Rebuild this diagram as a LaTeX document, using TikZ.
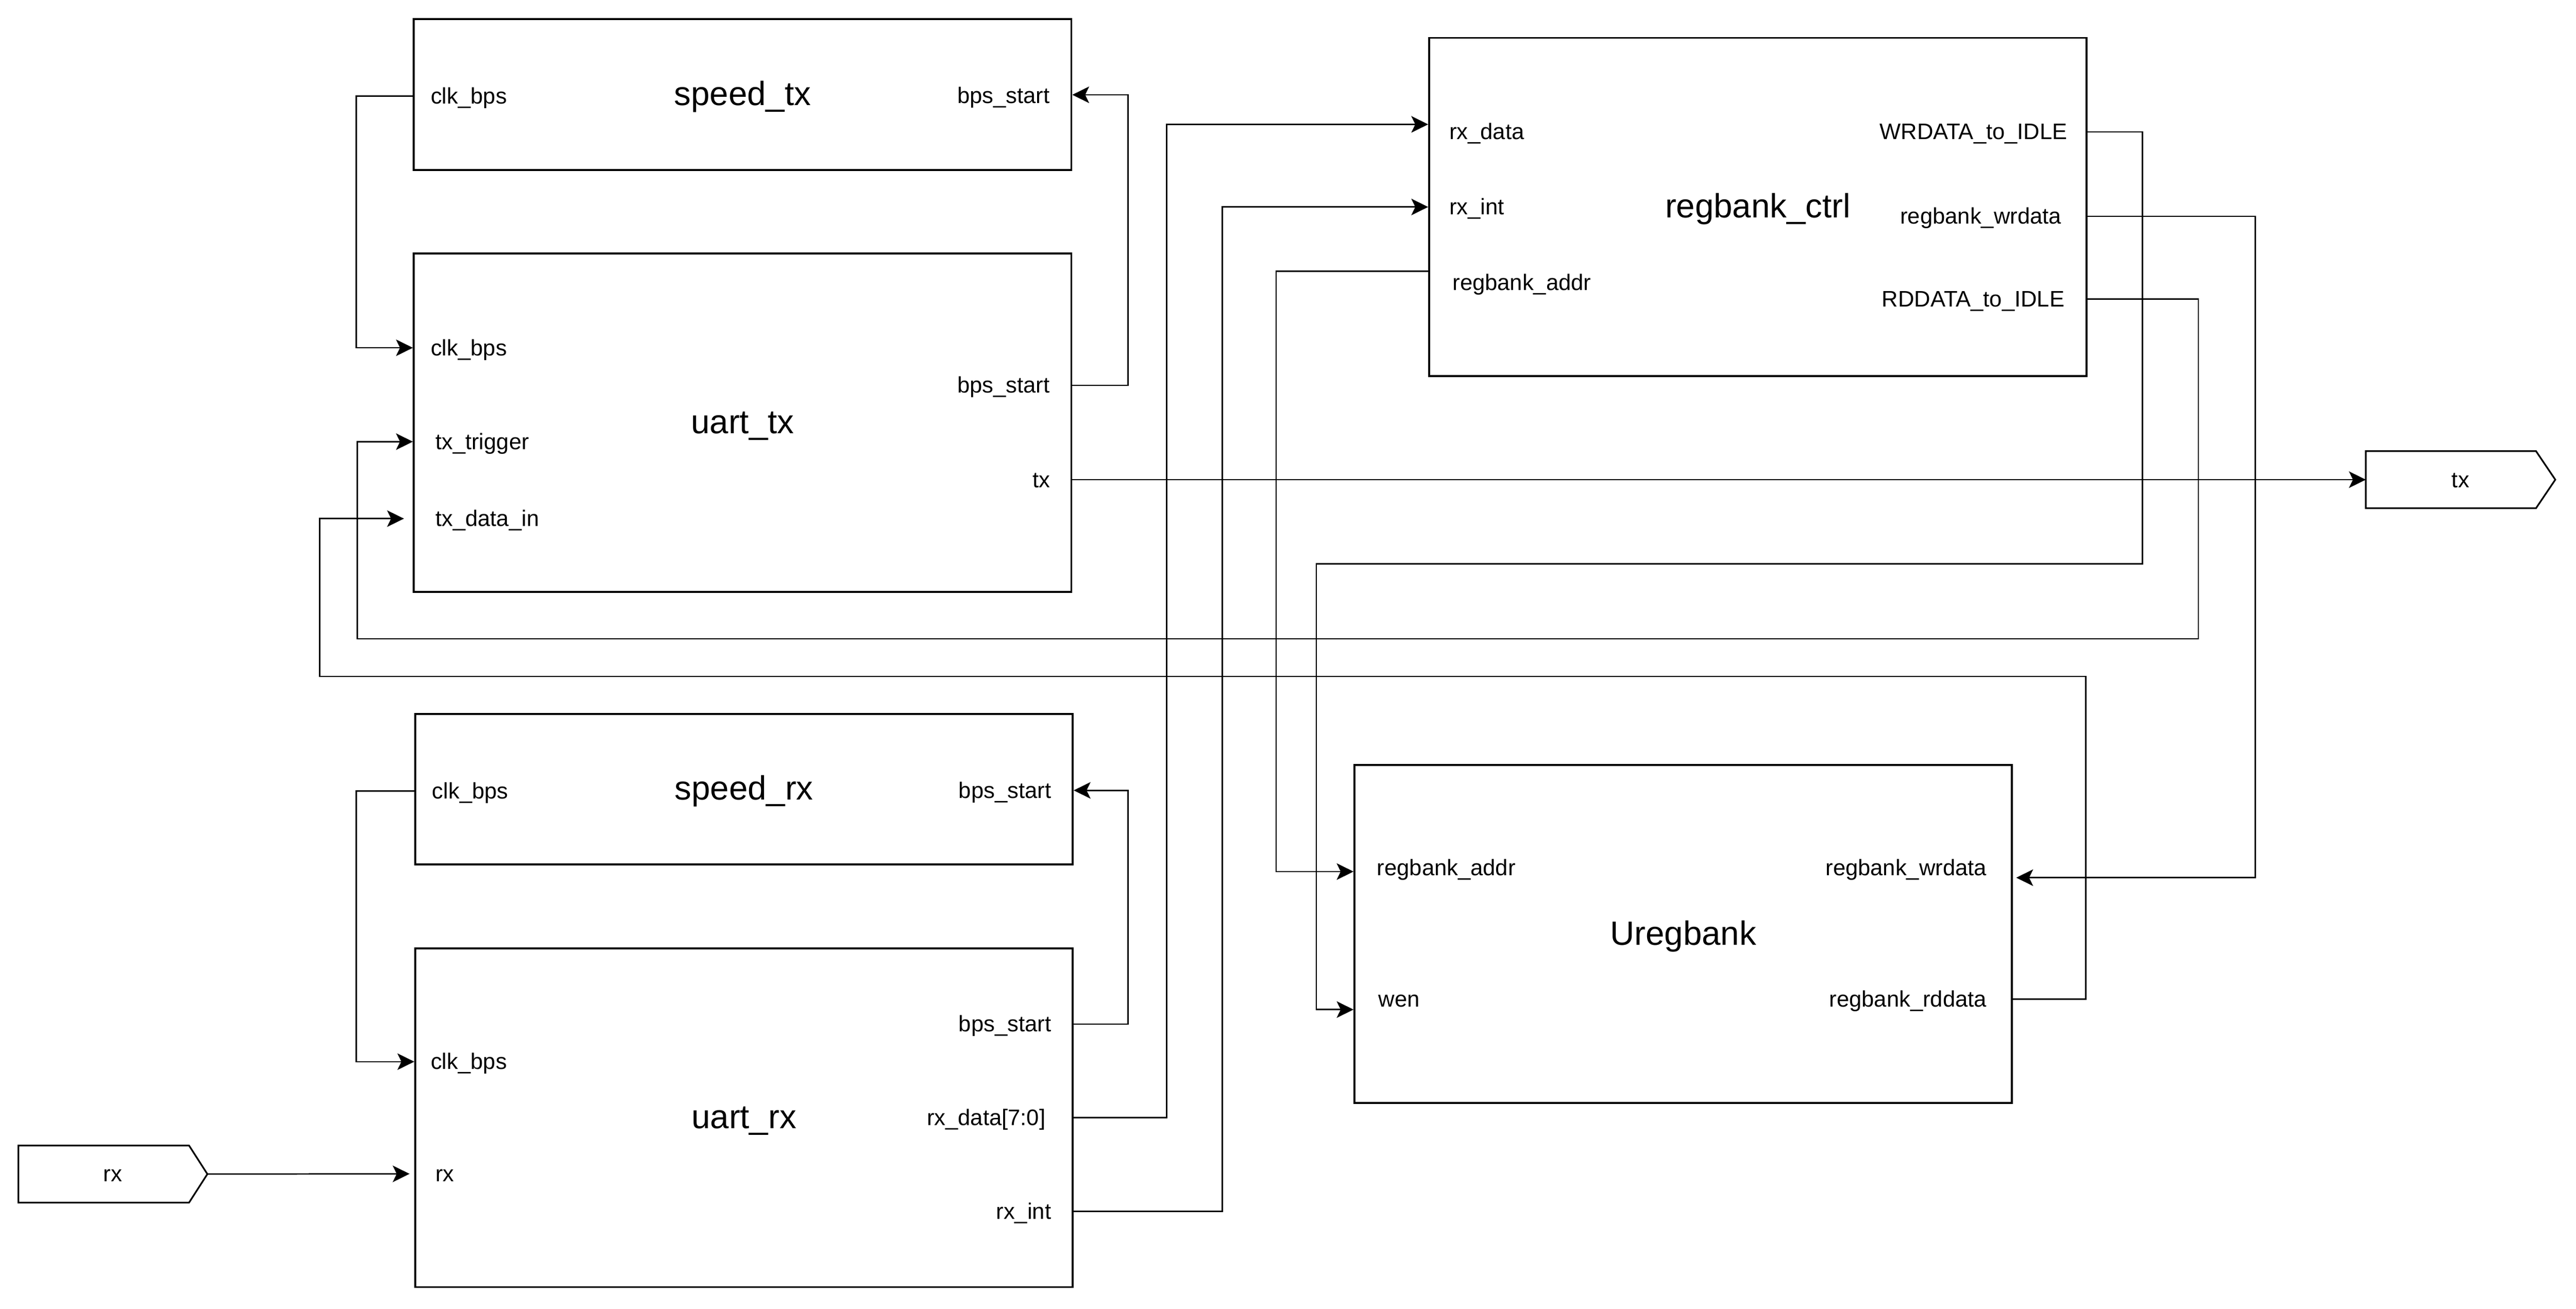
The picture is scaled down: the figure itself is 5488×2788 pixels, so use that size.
\documentclass[tikz,border=0pt]{standalone}
\usepackage{fontspec}
\setmainfont{Liberation Sans}
\usetikzlibrary{arrows.meta}
\begin{document}
\begin{tikzpicture}[x=0.01cm, y=-0.01cm, >={Stealth[length=10.2pt, width=10pt, inset=2.4pt]},
    block/.style={draw, line width=1.14pt, minimum width=14cm, text height=16pt, text depth=2.9pt, font=\fontsize{20.4}{24}\selectfont},
    lbl/.style={inner sep=0pt, font=\fontsize{13.6}{16}\selectfont, text height=11.5pt, text depth=2.2pt},
    port/.style={lbl, minimum height=1.2cm},
    wire/.style={->, line width=0.85pt}]
    \useasboundingbox (0,0) rectangle (5488,2788);
    % blocks
    \node[block, minimum height=3.21cm] (stx) at (1582,201.5) {speed\_tx};
    \node[block, minimum height=7.21cm] (utx) at (1582,900.5) {uart\_tx};
    \node[block, minimum height=3.21cm] (srx) at (1585,1681.5) {speed\_rx};
    \node[block, minimum height=7.21cm] (urx) at (1585,2381.5) {uart\_rx};
    \node[block, minimum height=7.2cm] (ctrl) at (3745,441) {regbank\_ctrl};
    \node[block, minimum height=7.2cm] (bank) at (3586,1990) {Uregbank};
    % ports
    \node[port, minimum width=4.02cm] (txp) at (5242,1022) {tx};
    \node[port, minimum width=4.01cm] (rxp) at (240.5,2501.5) {rx};
    \draw[line width=1pt] (txp.north west) -- ([xshift=-0.41cm]txp.north east) -- (txp.east)
        -- ([xshift=-0.41cm]txp.south east) -- (txp.south west) -- cycle;
    \draw[line width=1pt] (rxp.north west) -- ([xshift=-0.39cm]rxp.north east) -- (rxp.east)
        -- ([xshift=-0.39cm]rxp.south east) -- (rxp.south west) -- cycle;
    % pin labels
    \node[lbl, anchor=west] (sclk) at (917,205) {clk\_bps};
    \node[lbl, anchor=east] (sbps) at (2237,204) {bps\_start};
    \node[lbl, anchor=west] (uclk) at (917,741) {clk\_bps};
    \node[lbl, anchor=west] (utrig) at (927,941) {tx\_trigger};
    \node[lbl, anchor=west] (udin) at (927,1105) {tx\_data\_in};
    \node[lbl, anchor=east] (ubps) at (2237,821) {bps\_start};
    \node[lbl, anchor=east] (utxo) at (2238,1022) {tx};
    \node[lbl, anchor=west] (rsclk) at (920,1685) {clk\_bps};
    \node[lbl, anchor=east] (rsbps) at (2240,1684) {bps\_start};
    \node[lbl, anchor=west] (rclk) at (917,2262) {clk\_bps};
    \node[lbl, anchor=west] (rrx) at (927,2501) {rx};
    \node[lbl, anchor=east] (rbps) at (2240,2182) {bps\_start};
    \node[lbl, anchor=east] (rdata) at (2228,2381) {rx\_data[7:0]};
    \node[lbl, anchor=east] (rint) at (2240,2581) {rx\_int};
    \node[lbl, anchor=west] (crxd) at (3087,281) {rx\_data};
    \node[lbl, anchor=west] (crxi) at (3087,441) {rx\_int};
    \node[lbl, anchor=west] (caddr) at (3094,602) {regbank\_addr};
    \node[lbl, anchor=east] (cwr) at (4405,281) {WRDATA\_to\_IDLE};
    \node[lbl, anchor=east] (cwd) at (4392,461) {regbank\_wrdata};
    \node[lbl, anchor=east] (crd) at (4399,637) {RDDATA\_to\_IDLE};
    \node[lbl, anchor=west] (baddr) at (2933,1849) {regbank\_addr};
    \node[lbl, anchor=west] (bwen) at (2936,2129) {wen};
    \node[lbl, anchor=east] (bwd) at (4233,1849) {regbank\_wrdata};
    \node[lbl, anchor=east] (brd) at (4233,2129) {regbank\_rddata};
    % connections
    \draw[wire] (stx.west |- sclk) -- ++(-121,0) |- (utx.west |- uclk);
    \draw[wire] (utx.east |- ubps) -- ++(119,0) |- ([yshift=0.02cm]stx.east |- sbps);
    \draw[wire] (srx.west |- rsclk) -- ++(-124,0) |- (urx.west |- rclk);
    \draw[wire] (urx.east |- rbps) -- ++(116,0) |- (srx.east |- rsbps);
    \draw[wire] (rxp.east) -- ([xshift=-0.1cm]urx.west |- rrx);
    \draw[wire] (utx.east |- utxo) -- (txp.west);
    \draw[wire] (urx.east |- rdata) -- ++(198,0) |- ([yshift=0.16cm]ctrl.west |- crxd);
    \draw[wire] (urx.east |- rint) -- ++(317,0) |- (ctrl.west |- crxi);
    \draw[wire] ([yshift=0.24cm]ctrl.west |- caddr) -- ++(-324,0) |- ([yshift=-0.08cm]bank.west |- baddr);
    \draw[wire] (ctrl.east |- cwr) -- ++(117,0) |- ++(-1760,920) |- ([yshift=-0.22cm]bank.west |- bwen);
    \draw[wire] (ctrl.east |- cwd) -- ++(357,0) |- ([xshift=0.07cm, yshift=-0.21cm]bank.east |- bwd);
    \draw[wire] (ctrl.east |- crd) -- ++(236,0) |- (761,1361) |- (utx.west |- utrig);
    \draw[wire] (bank.east |- brd) -- ++(155,0) |- (681,1441) |- ([xshift=-0.19cm]utx.west |- udin);
\end{tikzpicture}
\end{document}
